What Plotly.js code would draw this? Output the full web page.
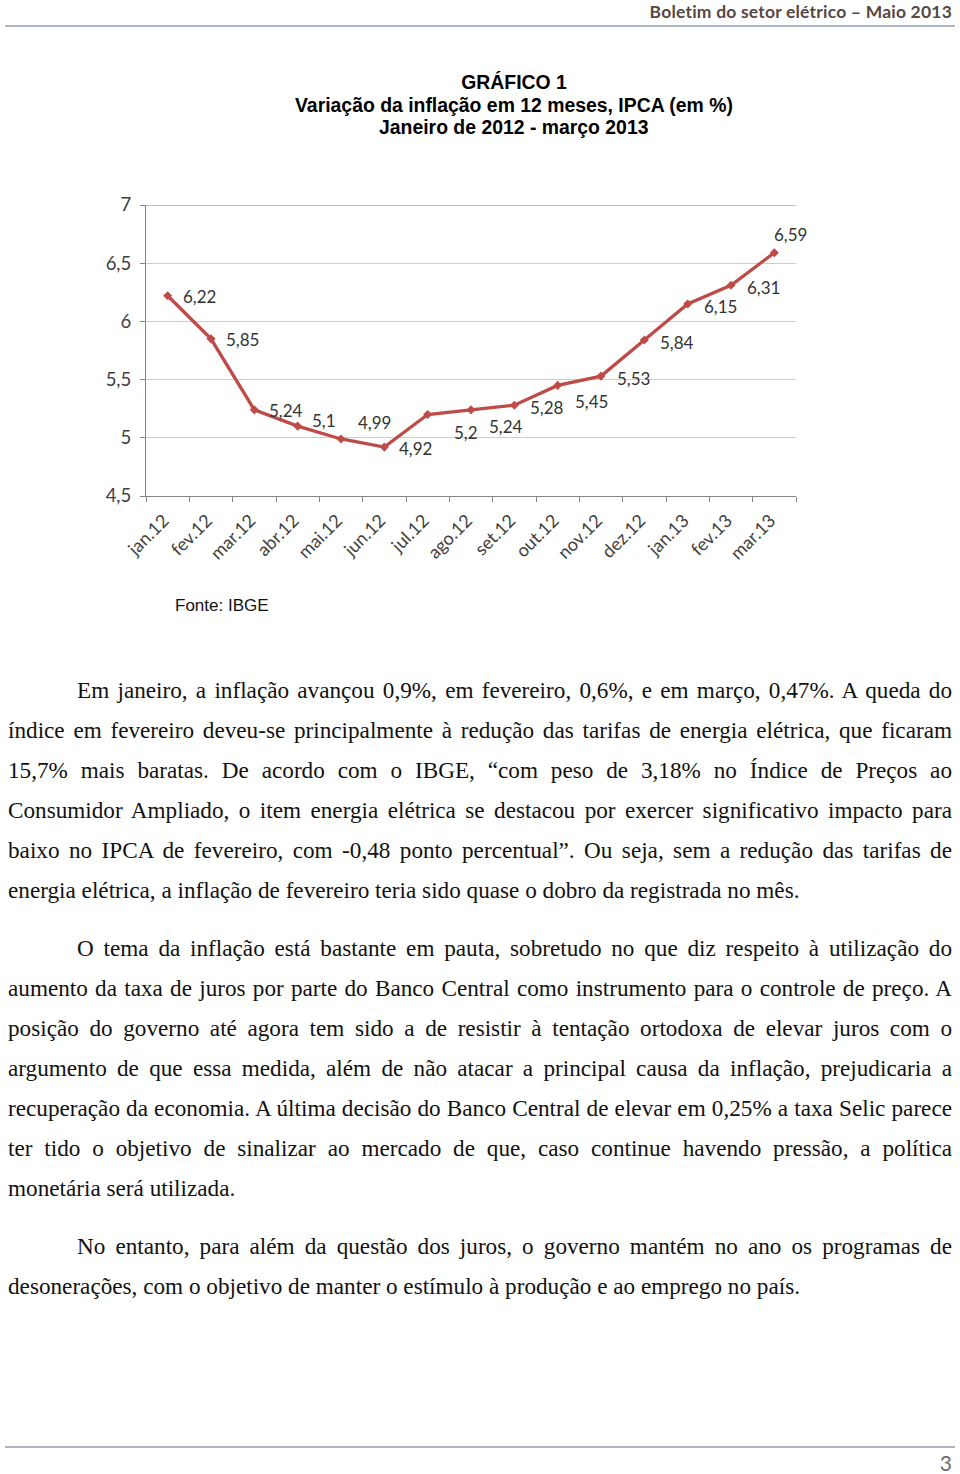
<!DOCTYPE html>
<html>
<head>
<meta charset="utf-8">
<script src="https://cdn.plot.ly/plotly-3.0.1.min.js"></script>
<style>
  html, body { margin: 0; padding: 0; background: #fff; }
  body { width: 960px; height: 1474px; position: relative; overflow: hidden; }
  #header { position: absolute; right: 8px; top: 1px; font-family: Lato, "Noto Sans", sans-serif; font-weight: bold; font-size: 17.5px; color: #574842; letter-spacing: 0.2px; }
  .rule { position: absolute; left: 5px; width: 950px; height: 2px; background: #A9B7C4; }
  #chart { position: absolute; left: 0; top: 40px; width: 960px; height: 600px; }
  .para { position: absolute; left: 8px; width: 944px; font-family: "Liberation Serif", "Times New Roman", serif; font-size: 23.2px; color: #111; }
  .ln { height: 40px; line-height: 40px; white-space: nowrap; overflow: hidden; }
  .j { text-align: justify; text-align-last: justify; white-space: normal; }
  .ind { padding-left: 69px; }
  #pagenum { position: absolute; right: 8px; top: 1450px; font-family: Lato, "Noto Sans", sans-serif; font-size: 21px; color: #6b6b6b; }
</style>
</head>
<body>
<div id="header">Boletim do setor elétrico – Maio 2013</div>
<div class="rule" style="top:25px;"></div>
<div id="chart"></div>

<div class="para" style="top:670px;">
  <div class="ln j ind">Em janeiro, a inflação avançou 0,9%, em fevereiro, 0,6%, e em março, 0,47%. A queda do</div>
  <div class="ln j">índice em fevereiro deveu-se principalmente à redução das tarifas de energia elétrica, que ficaram</div>
  <div class="ln j">15,7% mais baratas. De acordo com o IBGE, “com peso de 3,18% no Índice de Preços ao</div>
  <div class="ln j">Consumidor Ampliado, o item energia elétrica se destacou por exercer significativo impacto para</div>
  <div class="ln j">baixo no IPCA de fevereiro, com -0,48 ponto percentual”. Ou seja, sem a redução das tarifas de</div>
  <div class="ln">energia elétrica, a inflação de fevereiro teria sido quase o dobro da registrada no mês.</div>
</div>

<div class="para" style="top:928px;">
  <div class="ln j ind">O tema da inflação está bastante em pauta, sobretudo no que diz respeito à utilização do</div>
  <div class="ln j">aumento da taxa de juros por parte do Banco Central como instrumento para o controle de preço. A</div>
  <div class="ln j">posição do governo até agora tem sido a de resistir à tentação ortodoxa de elevar juros com o</div>
  <div class="ln j">argumento de que essa medida, além de não atacar a principal causa da inflação, prejudicaria a</div>
  <div class="ln j">recuperação da economia. A última decisão do Banco Central de elevar em 0,25% a taxa Selic parece</div>
  <div class="ln j">ter tido o objetivo de sinalizar ao mercado de que, caso continue havendo pressão, a política</div>
  <div class="ln">monetária será utilizada.</div>
</div>

<div class="para" style="top:1226px;">
  <div class="ln j ind">No entanto, para além da questão dos juros, o governo mantém no ano os programas de</div>
  <div class="ln">desonerações, com o objetivo de manter o estímulo à produção e ao emprego no país.</div>
</div>

<div class="rule" style="top:1446px;"></div>
<div id="pagenum">3</div>

<script>
// ---- data ----
const months = ["jan.12","fev.12","mar.12","abr.12","mai.12","jun.12","jul.12","ago.12","set.12","out.12","nov.12","dez.12","jan.13","fev.13","mar.13"];
const ipca12m = [6.22, 5.85, 5.24, 5.1, 4.99, 4.92, 5.2, 5.24, 5.28, 5.45, 5.53, 5.84, 6.15, 6.31, 6.59];
const yTicks = [4.5, 5, 5.5, 6, 6.5, 7];
const titleLines = ["GRÁFICO 1", "Variação da inflação em 12 meses, IPCA (em %)", "Janeiro de 2012 - março 2013"];
const sourceText = "Fonte: IBGE";

// ---- label placement (pixel offsets, style only) ----
const labelDx = [13, 13, 13, 12, 15, 13, 24, 16, 14, 15, 14, 14, 14, 14, -2];
const labelDy = [1, 1, 1, -6, -16, 1, 18, 17, 2, 16, 2, 2, 3, 2, -18];

const fmt = v => String(v).replace('.', ',');
const titleFont = { family: '"Liberation Sans", Arial, sans-serif', size: 19.4, color: '#000000', weight: 'bold' };

const annotations = months.map((m, i) => ({
  x: m, y: ipca12m[i], xref: 'x', yref: 'y',
  text: fmt(ipca12m[i]), showarrow: false,
  xanchor: 'left', yanchor: 'middle',
  xshift: labelDx[i], yshift: -labelDy[i],
  font: { family: 'Lato, "Open Sans", sans-serif', size: 17, color: '#333333' }
}));
// subtitle lines of the chart heading
[[titleLines[1], 1.3436], [titleLines[2], 1.268]].forEach(([t, yy]) => annotations.push({
  xref: 'paper', yref: 'paper', x: 0.5662, y: yy, xanchor: 'center', yanchor: 'middle',
  showarrow: false, text: '<b>' + t + '</b>', font: titleFont
}));
annotations.push({
  xref: 'paper', yref: 'paper', x: 0.0415, y: -0.378,
  xanchor: 'left', yanchor: 'middle', showarrow: false,
  text: sourceText,
  font: { family: '"Liberation Sans", Arial, sans-serif', size: 17, color: '#111111' }
});

const trace = {
  type: 'scatter', mode: 'lines+markers',
  x: months, y: ipca12m,
  line: { color: '#BE4B48', width: 3.3 },
  marker: { symbol: 'diamond', size: 7, color: '#BE4B48' },
  hoverinfo: 'x+y'
};

const yTop = Math.max(...yTicks);

const layout = {
  width: 960, height: 600,
  margin: { l: 146, r: 164, t: 165, b: 144 },
  paper_bgcolor: '#ffffff', plot_bgcolor: '#ffffff',
  separators: ',.',
  showlegend: false,
  title: {
    text: titleLines[0],
    font: titleFont,
    x: 514 / 960, xref: 'container', xanchor: 'center',
    y: 1 - 42 / 600, yref: 'container', yanchor: 'middle'
  },
  xaxis: {
    type: 'category', tickson: 'boundaries', ticks: 'outside', ticklen: 5, tickcolor: '#868686',
    showline: true, linecolor: '#868686', linewidth: 1, showgrid: false,
    tickangle: -45, ticklabelstandoff: 6, ticklabelshift: -4,
    tickfont: { family: 'Lato, "Open Sans", sans-serif', size: 18, color: '#404040' },
    range: [-0.5, 14.5], fixedrange: true
  },
  yaxis: {
    range: [Math.min(...yTicks), yTop], tickvals: yTicks, ticktext: yTicks.map(fmt),
    ticks: 'outside', ticklen: 5, tickcolor: '#868686', ticklabelstandoff: 5,
    showline: true, linecolor: '#868686', linewidth: 1,
    showgrid: true, gridcolor: '#C3CFDF', gridwidth: 1.3, zeroline: false,
    tickfont: { family: 'Lato, "Open Sans", sans-serif', size: 18.5, color: '#404040' },
    fixedrange: true
  },
  shapes: [{
    type: 'line', xref: 'paper', yref: 'y', x0: 0, x1: 1, y0: yTop, y1: yTop,
    line: { color: '#9DB0CB', width: 1.6 }, layer: 'below'
  }],
  annotations: annotations
};

Plotly.newPlot('chart', [trace], layout, { displayModeBar: false, staticPlot: true });
</script>
</body>
</html>
